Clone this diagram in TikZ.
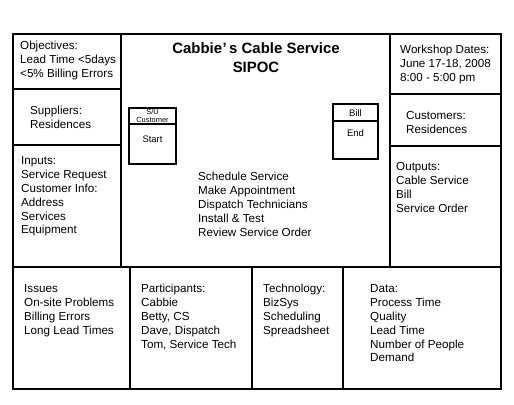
\documentclass[tikz,border=0pt]{standalone}
\usepackage{fontspec}
\setmainfont{Liberation Sans}
\begin{document}
\begin{tikzpicture}[x=1bp,y=-1bp,
  grid/.style={draw=black,line width=1.1bp},
  txt/.style={anchor=north west,inner sep=0pt,align=left,font=\fontsize{11.7}{14}\selectfont},
  stepbox/.style={draw=black,line width=2bp},
  boxtxt/.style={inner sep=0pt,font=\fontsize{9.5}{10}\selectfont},
  smalltxt/.style={inner sep=0pt,align=center,font=\fontsize{7.5}{7.5}\selectfont}]
\useasboundingbox (0,0) rectangle (514,404);
% outer frame and grid
\draw[grid] (13,34) rectangle (501,389);
\draw[grid] (13,267) -- (501,267);
\draw[grid] (121,34) -- (121,267);
\draw[grid] (390,34) -- (390,267);
\draw[grid] (13,89) -- (121,89);
\draw[grid] (13,145) -- (121,145);
\draw[grid] (390,94) -- (501,94);
\draw[grid] (390,146) -- (501,146);
\draw[grid] (130,267) -- (130,389);
\draw[grid] (252,267) -- (252,389);
\draw[grid] (343,267) -- (343,389);
% title
\node[inner sep=0pt,align=center,font=\bfseries\fontsize{15}{19}\selectfont] (title) at (256,58) {Cabbie\kern0.5pt’\kern2.5pt s Cable Service\\SIPOC};
% blocks
\node[txt] (obj) at (20,40.5) {Objectives:\\Lead Time <5days\\<5\% Billing Errors};
\node[txt] (sup) at (30,106) {Suppliers:\\Residences};
\node[txt] (inp) at (21,156) {Inputs:\\Service Request\\Customer Info:\\Address\\Services\\Equipment};
\node[txt] (work) at (400,44.5) {Workshop Dates:\\June 17-18, 2008\\8:00 - 5:00 pm};
\node[txt] (cust) at (406,111) {Customers:\\Residences};
\node[txt] (out) at (396,162) {Outputs:\\Cable Service\\Bill\\Service Order};
\node[txt] (proc) at (198,172) {Schedule Service\\Make Appointment\\Dispatch Technicians\\Install \& Test\\Review Service Order};
\node[txt] (iss) at (24,284) {Issues\\On-site Problems\\Billing Errors\\Long Lead Times};
\node[txt] (part) at (141,284) {Participants:\\Cabbie\\Betty, CS\\Dave, Dispatch\\Tom, Service Tech};
\node[txt] (tech) at (263,284) {Technology:\\BizSys\\Scheduling\\Spreadsheet};
\node[txt] (data) at (370,284) {Data:\\Process Time\\Quality\\Lead Time\\Number of People\\Demand};
% start box
\draw[stepbox] (129,108) rectangle (176,164);
\draw[stepbox] (129,124) -- (176,124);
\node[smalltxt] (su) at (152.5,116) {S/U\\Customer};
\node[boxtxt] (start) at (152.5,139) {Start};
% bill box
\draw[stepbox] (333,104) rectangle (378,159);
\draw[stepbox] (333,121) -- (378,121);
\node[boxtxt] (bill) at (355.5,113) {Bill};
\node[boxtxt] (end) at (355.5,133) {End};
\end{tikzpicture}
\end{document}
